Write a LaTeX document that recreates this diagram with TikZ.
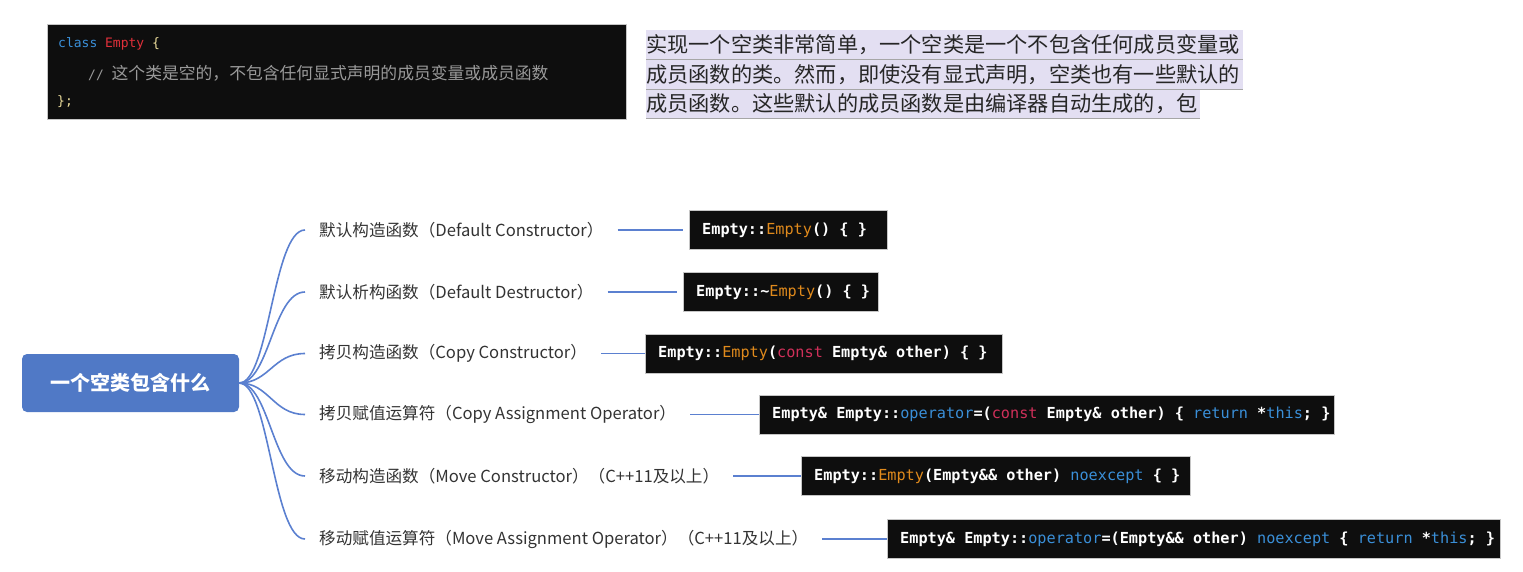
\documentclass[tikz,border=0pt]{standalone}
\usepackage{fontspec}
\setmainfont{Noto Sans CJK SC}
\setmonofont{DejaVu Sans Mono}[WordSpace={1,0,0}]
\newfontfamily\cjk{Noto Sans CJK SC}
\usetikzlibrary{positioning}
\definecolor{rootblue}{HTML}{5079C6}
\definecolor{linkblue}{HTML}{5B80D0}
\definecolor{codebg}{HTML}{0E0E0E}
\definecolor{kwblue}{HTML}{3A8FD8}
\definecolor{fnorange}{HTML}{E08A1C}
\definecolor{kwred}{HTML}{D0305A}
\definecolor{clsred}{HTML}{E0303A}
\definecolor{brace}{HTML}{EADB9A}
\definecolor{cmtgray}{HTML}{9A9A9A}
\definecolor{hilite}{HTML}{E3DFF2}
\newcommand{\cw}[1]{\textcolor{white}{\bfseries #1}}
\newcommand{\co}[1]{\textcolor{fnorange}{#1}}
\newcommand{\cb}[1]{\textcolor{kwblue}{#1}}
\newcommand{\ck}[1]{\textcolor{kwred}{#1}}
\newcommand{\codeline}[2]{\makebox[#1][l]{#2}}

\begin{document}
\begin{tikzpicture}[x=1pt,y=-1pt]
      \tikzstyle{root}=[rounded corners=5pt,fill=rootblue,text=white,font=\fontsize{20}{24}\selectfont\bfseries,minimum width=217pt,minimum height=58pt,inner sep=0pt]
      \tikzstyle{item}=[anchor=west,inner xsep=14pt,inner ysep=2pt,text=black!80,font=\fontsize{16.6}{20}\selectfont]
      \tikzstyle{code}=[anchor=west,fill=codebg,draw=gray!45,inner xsep=13pt,inner ysep=0pt,minimum height=39pt,font=\ttfamily\fontsize{15.2}{18}\selectfont]
      \tikzstyle{link}=[linkblue,line width=1.6pt]
      \tikzstyle{para}=[anchor=west,fill=hilite,inner sep=0pt,minimum height=29.5pt,text=black!85,font=\fontsize{21.2}{24}\selectfont]
      \useasboundingbox (0,0) rectangle (1523,572);
      \node[fill=codebg,draw=gray!45,minimum width=579pt,minimum height=95pt,anchor=north west,inner sep=0pt] (snip) at (47,24) {};
      \node[anchor=west,inner sep=0pt,font=\ttfamily\fontsize{13}{15}\selectfont] (l1) at (58,44) {\textcolor{kwblue}{class} \textcolor{clsred}{Empty} \textcolor{brace}{\{}};
      \node[anchor=west,inner sep=0pt,text=cmtgray,font=\ttfamily\fontsize{13}{15}\selectfont] (l2) at (88,73) {// {\cjk\fontsize{16.8}{18}\selectfont 这个类是空的，不包含任何显式声明的成员变量或成员函数}};
      \node[anchor=west,inner sep=0pt,text=brace,font=\ttfamily\fontsize{13}{15}\selectfont] (l3) at (57,102) {\};};
      \node[para,minimum width=597pt,text width=597pt] (p1) at (646,45) {实现一个空类非常简单，一个空类是一个不包含任何成员变量或};
      \node[para,minimum width=597pt,text width=597pt] (p2) at (646,74.5) {成员函数的类。然而，即使没有显式声明，空类也有一些默认的};
      \node[para,minimum width=554pt,text width=554pt] (p3) at (646,104) {成员函数。这些默认的成员函数是由编译器自动生成的，包};
      \foreach \p in {p1,p2,p3}
        \draw[gray!70,line width=1pt] (\p.south west) -- (\p.south east);
      \node[root] (r) at (130.5,383) {一个空类包含什么};
      \node[item] (a) at (305,230) {默认构造函数（Default Constructor）};
      \node[item] (b) at (305,292) {默认析构函数（Default Destructor）};
      \node[item] (c) at (305,353.5) {拷贝构造函数（Copy Constructor）};
      \node[item] (d) at (305,414.5) {拷贝赋值运算符（Copy Assignment Operator）};
      \node[item] (e) at (305,476) {移动构造函数（Move Constructor）（C++11及以上）};
      \node[item] (f) at (305,539) {移动赋值运算符（Move Assignment Operator）（C++11及以上）};
      \node[code] (ca) at (689,230) {\codeline{172pt}{\cw{Empty::}\co{Empty}\cw{() \{ \}}}};
      \node[code] (cb) at (683,292) {\codeline{169pt}{\cw{Empty::\textasciitilde}\co{Empty}\cw{() \{ \}}}};
      \node[code] (cc) at (645,353.5) {\codeline{331pt}{\cw{Empty::}\co{Empty}\cw{(}\ck{const} \cw{Empty\& other) \{ \}}}};
      \node[code] (cd) at (759,414.5) {\codeline{549pt}{\cw{Empty\& Empty::}\cb{operator}\cw{=(}\ck{const} \cw{Empty\& other) \{} \cb{return} \cw{*}\cb{this}\cw{; \}}}};
      \node[code] (ce) at (801,476) {\codeline{363pt}{\cw{Empty::}\co{Empty}\cw{(Empty\&\& other)} \cb{noexcept} \cw{\{ \}}}};
      \node[code] (cf) at (887,539) {\codeline{587pt}{\cw{Empty\& Empty::}\cb{operator}\cw{=(Empty\&\& other)} \cb{noexcept} \cw{\{} \cb{return} \cw{*}\cb{this}\cw{; \}}}};
      \foreach \n in {a,b,c,d,e,f}
        \draw[link] (r.east) .. controls +(30,0) and +(-32,0) .. (\n.west);
      \draw[link,shorten >=6pt] (a.east) -- (ca.west);
      \draw[link,shorten >=6pt] (b.east) -- (cb.west);
      \draw[link] (c.east) -- (cc.west);
      \draw[link] (d.east) -- (cd.west);
      \draw[link] (e.east) -- (ce.west);
      \draw[link] (f.east) -- (cf.west);
\end{tikzpicture}
\end{document}
